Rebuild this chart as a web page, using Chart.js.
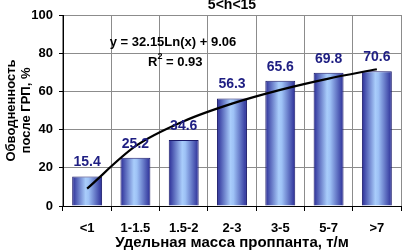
<!DOCTYPE html>
<html>
<head>
<meta charset="utf-8">
<script src="https://cdn.jsdelivr.net/npm/chart.js@4"></script>
<style>
  html, body { margin: 0; padding: 0; background: #fff; }
  #wrap { width: 402px; height: 252px; }
</style>
</head>
<body>
<div id="wrap"><canvas id="chart" width="402" height="252"></canvas></div>
<script>
/* ==========================
   DATA
========================== */
const categories = ["<1", "1-1.5", "1.5-2", "2-3", "3-5", "5-7", ">7"];
const waterCut = [15.4, 25.2, 34.6, 56.3, 65.6, 69.8, 70.6];
// log trendline, values at each category
const trendValues = [9.1, 31.3, 44.4, 53.6, 60.8, 66.7, 71.6];
const yTicks = [0, 20, 40, 60, 80, 100];

const chartTitle = "5<h<15";
const equationText = "y = 32.15Ln(x) + 9.06";
const r2Text = ["R", "2", " = 0.93"];

const FONT = "'Liberation Sans', Arial, sans-serif";

/* ==========================
   BAR GRADIENT
========================== */
function barFill(ctx) {
  const chart = ctx.chart;
  const x = chart.scales.x;
  if (!x || !chart.chartArea) return "#5f7fd8";
  const cx = x.getPixelForValue(ctx.dataIndex);
  const w = (chart.chartArea.right - chart.chartArea.left) / categories.length * 0.62;
  const g = chart.ctx.createLinearGradient(cx - w / 2, 0, cx + w / 2, 0);
  g.addColorStop(0, "#2a2c96");
  g.addColorStop(0.45, "#a9cdfb");
  g.addColorStop(0.55, "#9ec2f6");
  g.addColorStop(1, "#2a2c96");
  return g;
}

/* ==========================
   TEXT PLUGIN
========================== */
const textPlugin = {
  id: "texts",
  afterDatasetsDraw(chart) {
    const c = chart.ctx;
    const area = chart.chartArea;
    const meta = chart.getDatasetMeta(1);
    c.save();
    c.textAlign = "center";
    c.textBaseline = "middle";

    // values above bars
    c.font = "bold 14px " + FONT;
    c.fillStyle = "#1e1e82";
    meta.data.forEach((bar, i) => {
      c.fillText(String(waterCut[i]), bar.x, bar.y - 14);
    });

    // title
    c.fillStyle = "#000";
    c.font = "bold 14px " + FONT;
    c.fillText(chartTitle, (area.left + area.right) / 2, 5);

    // equation
    c.font = "bold 13px " + FONT;
    c.fillText(equationText, 173, 42);
    c.textAlign = "left";
    c.fillText(r2Text[0], 148, 62);
    let rw = c.measureText(r2Text[0]).width;
    c.font = "bold 9px " + FONT;
    c.fillText(r2Text[1], 148 + rw, 57);
    let sw = c.measureText(r2Text[1]).width;
    c.font = "bold 13px " + FONT;
    c.fillText(r2Text[2], 148 + rw + sw, 62);
    c.restore();
  }
};

/* ==========================
   CHART
========================== */
new Chart(document.getElementById("chart"), {
  data: {
    labels: categories,
    datasets: [
      {
        type: "line",
        data: trendValues,
        borderColor: "#000",
        borderWidth: 2.2,
        pointRadius: 0,
        cubicInterpolationMode: "monotone",
        order: 0
      },
      {
        type: "bar",
        data: waterCut,
        backgroundColor: barFill,
        borderColor: "#1a1a6a",
        borderWidth: 1,
        categoryPercentage: 0.62,
        barPercentage: 1,
        order: 1
      }
    ]
  },
  options: {
    responsive: false,
    animation: false,
    devicePixelRatio: 1,
    layout: { padding: { top: 15, right: 1, left: 0, bottom: 0 } },
    plugins: {
      legend: { display: false },
      tooltip: { enabled: false },
      title: { display: false }
    },
    scales: {
      x: {
        offset: true,
        grid: { offset: true, color: "#8c8c8c", tickLength: 5, tickColor: "#000" },
        border: { color: "#000", width: 1 },
        ticks: { color: "#000", font: { family: FONT, size: 13, weight: "bold" }, padding: 10, maxRotation: 0 },
        title: {
          display: true,
          text: "Удельная масса проппанта, т/м",
          color: "#000",
          font: { family: FONT, size: 15, weight: "bold" },
          padding: { top: 0, bottom: 0 }
        },
        afterFit: s => { s.height = 46; }
      },
      y: {
        min: 0,
        max: 100,
        afterBuildTicks: s => { s.ticks = yTicks.map(v => ({ value: v })); },
        grid: { color: "#8c8c8c", tickLength: 4, tickColor: "#000" },
        border: { color: "#000", width: 1 },
        ticks: { color: "#000", font: { family: FONT, size: 13, weight: "bold" }, padding: 6 },
        title: {
          display: true,
          text: ["Обводненность", "после ГРП, %"],
          color: "#000",
          font: { family: FONT, size: 13, weight: "bold", lineHeight: 1.15 },
          padding: { top: 4, bottom: 4 }
        },
        afterFit: s => { s.width = 63; }
      }
    }
  },
  plugins: [textPlugin]
});
</script>
</body>
</html>
